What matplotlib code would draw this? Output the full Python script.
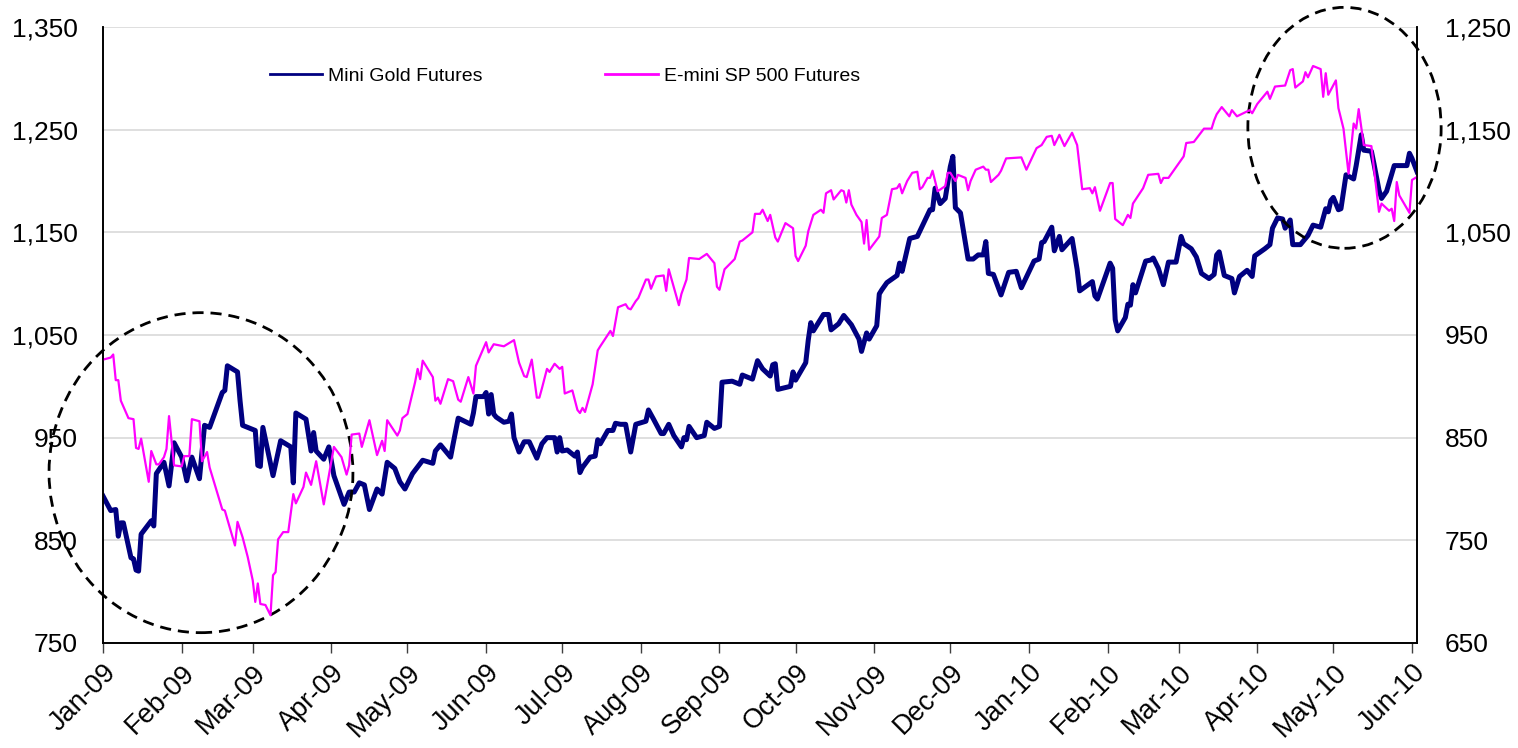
import matplotlib
matplotlib.use("Agg")
import matplotlib.pyplot as plt
import matplotlib.dates as mdates
from matplotlib.patches import Ellipse
from matplotlib.lines import Line2D
from matplotlib.ticker import FuncFormatter
import pandas as pd

plt.rcParams["font.family"] = ["Liberation Sans", "DejaVu Sans"]

START = pd.Timestamp("2009-01-01")

# Mini Gold Futures (left axis), calendar days after 1 Jan 2009
gold_day = [0, 3, 5, 6, 7, 8, 11, 12, 13, 14,
            15, 19, 20, 21, 24, 26, 28, 31, 33, 35,
            38, 40, 42, 47, 48, 49, 53, 54, 55, 60,
            61, 62, 63, 67, 70, 74, 75, 76, 80, 82,
            83, 84, 87, 89, 91, 95, 97, 99, 101, 103,
            105, 108, 110, 112, 115, 117, 119, 122, 126, 130,
            131, 133, 137, 138, 140, 145, 146, 147, 150, 151,
            152, 153, 154, 155, 158, 160, 161, 162, 164, 166,
            168, 171, 173, 175, 178, 179, 180, 181, 183, 186,
            187, 188, 189, 192, 194, 195, 196, 199, 201, 202,
            204, 206, 208, 210, 214, 215, 217, 220, 221, 223,
            225, 228, 229, 230, 231, 234, 237, 238, 241, 243,
            244, 248, 251, 252, 256, 258, 260, 263, 264, 265,
            266, 271, 272, 273, 277, 278, 279, 280, 284, 286,
            287, 290, 292, 295, 298, 299, 301, 302, 305, 306,
            307, 309, 313, 314, 315, 318, 321, 326, 327, 328,
            330, 332, 334, 335, 336, 338, 341, 343, 344, 345,
            347, 348, 349, 351, 354, 357, 360, 362, 367, 369,
            370, 371, 374, 375, 377, 378, 382, 384, 385, 390,
            391, 392, 395, 397, 398, 399, 400, 403, 404, 405,
            406, 407, 411, 413, 414, 416, 418, 420, 423, 425,
            426, 429, 431, 433, 436, 438, 439, 440, 442, 445,
            446, 448, 451, 453, 454, 458, 460, 461, 463, 465,
            466, 468, 469, 472, 475, 477, 480, 482, 483, 484,
            485, 487, 488, 490, 493, 494, 496, 497, 500, 501,
            503, 504, 506, 509, 514, 515, 516, 518]
gold_px = [893, 879, 880, 854, 867, 867, 833, 832, 821, 820,
           856, 869, 864, 915, 926, 903, 945, 931, 908, 931,
           910, 962, 960, 994, 996, 1020, 1014, 986, 962, 957,
           923, 922, 960, 913, 947, 941, 906, 974, 968, 937,
           955, 937, 929, 941, 913, 885, 897, 897, 906, 904,
           880, 900, 895, 926, 920, 907, 900, 915, 928, 925,
           937, 943, 931, 944, 969, 963, 974, 990, 990, 994,
           973, 992, 973, 970, 965, 966, 973, 950, 936, 946,
           946, 930, 944, 950, 950, 936, 950, 937, 938, 932,
           936, 916, 921, 931, 932, 948, 944, 957, 957, 964,
           963, 963, 936, 963, 966, 977, 968, 954, 954, 963,
           952, 941, 950, 948, 961, 950, 952, 965, 959, 961,
           1004, 1005, 1002, 1011, 1007, 1025, 1017, 1010, 1021, 1022,
           997, 1000, 1014, 1006, 1023, 1045, 1062, 1054, 1070, 1070,
           1055, 1061, 1069, 1060, 1046, 1034, 1052, 1046, 1059, 1090,
           1094, 1101, 1108, 1120, 1112, 1144, 1146, 1172, 1172, 1193,
           1178, 1183, 1214, 1224, 1174, 1169, 1124, 1124, 1126, 1128,
           1128, 1141, 1110, 1109, 1089, 1111, 1112, 1096, 1122, 1124,
           1140, 1141, 1155, 1132, 1146, 1133, 1144, 1114, 1093, 1102,
           1088, 1085, 1106, 1120, 1115, 1065, 1054, 1067, 1080, 1079,
           1099, 1091, 1122, 1123, 1125, 1115, 1099, 1121, 1121, 1146,
           1139, 1134, 1126, 1110, 1105, 1109, 1128, 1131, 1108, 1105,
           1091, 1107, 1113, 1107, 1127, 1134, 1138, 1154, 1164, 1163,
           1154, 1162, 1138, 1138, 1147, 1157, 1155, 1173, 1170, 1181,
           1184, 1172, 1173, 1206, 1202, 1215, 1245, 1230, 1229, 1217,
           1191, 1183, 1190, 1215, 1215, 1227, 1222, 1209]

# E-mini SP 500 Futures (right axis)
sp_day = [0, 3, 4, 5, 6, 7, 10, 12, 13, 14,
          15, 18, 19, 21, 22, 24, 25, 26, 28, 31,
          32, 34, 35, 38, 39, 41, 42, 47, 48, 52,
          53, 55, 57, 59, 60, 61, 62, 64, 66, 67,
          68, 69, 71, 73, 75, 76, 79, 80, 82, 84,
          87, 91, 94, 96, 97, 98, 101, 102, 105, 108,
          110, 111, 112, 116, 117, 118, 120, 123, 124, 125,
          126, 130, 131, 132, 133, 136, 138, 140, 141, 144,
          146, 147, 151, 152, 154, 158, 162, 164, 166, 167,
          169, 171, 172, 173, 175, 176, 178, 180, 181, 182,
          185, 187, 188, 189, 190, 193, 195, 196, 200, 201,
          203, 204, 206, 207, 208, 210, 211, 214, 215, 216,
          218, 221, 222, 223, 227, 228, 230, 231, 235, 238,
          241, 242, 243, 245, 249, 251, 252, 256, 257, 259,
          260, 262, 263, 265, 266, 269, 272, 273, 274, 277,
          278, 280, 283, 284, 285, 287, 288, 291, 292, 293,
          294, 295, 297, 299, 300, 301, 302, 306, 307, 309,
          311, 313, 314, 315, 317, 319, 321, 322, 323, 325,
          326, 327, 329, 332, 333, 334, 336, 337, 340, 341,
          342, 344, 347, 348, 349, 350, 353, 354, 356, 362,
          364, 368, 370, 372, 374, 375, 377, 379, 382, 384,
          386, 389, 390, 391, 393, 397, 398, 399, 402, 404,
          405, 406, 410, 412, 416, 417, 418, 420, 424, 426,
          427, 430, 434, 437, 438, 439, 441, 444, 445, 447,
          452, 453, 455, 459, 460, 462, 466, 468, 469, 470,
          473, 474, 475, 477, 480, 481, 482, 483, 486, 487,
          489, 491, 493, 494, 495, 497, 500, 503, 504, 507,
          508, 509, 510, 511, 515, 516, 518]
sp_px = [926, 928, 931, 906, 906, 886, 869, 868, 840, 839,
         849, 807, 837, 824, 824, 831, 839, 871, 823, 822,
         832, 832, 868, 866, 827, 836, 821, 780, 779, 745,
         768, 753, 734, 711, 690, 708, 688, 687, 677, 716,
         719, 751, 758, 758, 795, 786, 802, 816, 804, 827,
         785, 841, 831, 814, 823, 853, 854, 841, 867, 833,
         847, 837, 867, 852, 857, 869, 873, 904, 917, 907,
         925, 909, 886, 889, 883, 907, 905, 887, 885, 909,
         893, 920, 943, 933, 941, 939, 945, 923, 910, 909,
         926, 889, 889, 898, 917, 914, 922, 917, 919, 893,
         896, 877, 874, 879, 875, 902, 935, 939, 954, 949,
         977, 978, 980, 976, 975, 983, 986, 1004, 1004, 995,
         1007, 1008, 993, 1014, 979, 990, 1004, 1025, 1024, 1029,
         1020, 997, 994, 1014, 1024, 1041, 1042, 1050, 1068, 1068,
         1072, 1061, 1067, 1045, 1041, 1059, 1054, 1027, 1022, 1037,
         1051, 1067, 1072, 1069, 1088, 1091, 1082, 1091, 1090, 1079,
         1091, 1077, 1067, 1060, 1039, 1062, 1033, 1046, 1064, 1067,
         1092, 1093, 1097, 1088, 1100, 1108, 1109, 1092, 1094, 1103,
         1103, 1110, 1090, 1095, 1108, 1108, 1100, 1106, 1103, 1091,
         1100, 1111, 1114, 1111, 1111, 1099, 1106, 1110, 1122, 1123,
         1111, 1132, 1135, 1143, 1144, 1135, 1145, 1134, 1147, 1135,
         1092, 1093, 1088, 1094, 1071, 1098, 1098, 1063, 1057, 1067,
         1064, 1078, 1093, 1106, 1107, 1098, 1103, 1103, 1117, 1124,
         1137, 1138, 1151, 1151, 1159, 1165, 1172, 1163, 1169, 1163,
         1169, 1166, 1175, 1187, 1180, 1192, 1193, 1208, 1209, 1191,
         1197, 1206, 1201, 1212, 1209, 1182, 1205, 1184, 1198, 1171,
         1151, 1107, 1156, 1151, 1170, 1135, 1134, 1070, 1078, 1071,
         1073, 1061, 1099, 1086, 1069, 1101, 1104]

left_ticks = [750, 850, 950, 1050, 1150, 1250, 1350]
right_ticks = [650, 750, 850, 950, 1050, 1150, 1250]

gold_dates = START + pd.to_timedelta(gold_day, unit="D")
sp_dates = START + pd.to_timedelta(sp_day, unit="D")

NAVY = "#000080"
PINK = "#FF00FF"

fig = plt.figure(figsize=(15.18, 7.48), dpi=100)
ax = fig.add_axes([0.0679, 0.1404, 0.8656, 0.8235])
ax2 = ax.twinx()

ax.plot(gold_dates, gold_px, color=NAVY, lw=3.6)
ax2.plot(sp_dates, sp_px, color=PINK, lw=1.6)

ax.set_ylim(left_ticks[0], left_ticks[-1])
ax2.set_ylim(right_ticks[0], right_ticks[-1])
ax.set_yticks(left_ticks)
ax2.set_yticks(right_ticks)
comma = FuncFormatter(lambda v, p: f"{v:,.0f}")
ax.yaxis.set_major_formatter(comma)
ax2.yaxis.set_major_formatter(comma)
ax.grid(axis="y", color="#d9d9d9", lw=1.2)
ax.set_axisbelow(True)

ax.set_xlim(START, START + pd.Timedelta(days=518))
ax.xaxis.set_major_locator(mdates.MonthLocator())
ax.xaxis.set_major_formatter(mdates.DateFormatter("%b-%y"))
for lab in ax.get_xticklabels():
    lab.set_rotation(45)
    lab.set_ha("right")
    lab.set_va("top")
    lab.set_rotation_mode("anchor")

ax.tick_params(axis="x", direction="out", length=7, width=1, color="#404040",
               labelsize=19.5, pad=5)
ax.tick_params(axis="y", length=0, labelsize=19, pad=18)
ax2.tick_params(axis="y", length=0, labelsize=19, pad=20)

for a in (ax, ax2):
    a.spines["top"].set_visible(False)
    for s in ("left", "right", "bottom"):
        a.spines[s].set_linewidth(1.2)
        a.spines[s].set_color("black")

# dashed circles around the two divergence zones
x0 = mdates.date2num(START)
ax2.add_patch(Ellipse((x0 + 38.6, 815.9), 119.8, 311.7, fill=False,
                      ls=(0, (4, 2.5)), lw=2, ec="black", clip_on=False))
ax2.add_patch(Ellipse((x0 + 489.4, 1151.8), 76.2, 234.7, fill=False,
                      ls=(0, (4, 2.5)), lw=2, ec="black", clip_on=False))

handles = [Line2D([], [], color=NAVY, lw=2),
           Line2D([], [], color=PINK, lw=2)]
ax2.legend(handles, ["Mini Gold Futures", "E-mini SP 500 Futures"],
           loc="center left", bbox_to_anchor=(0.127, 0.92), ncol=2,
           frameon=False, fontsize=14, handlelength=2.7, handletextpad=0.3,
           columnspacing=6.3, borderpad=0, borderaxespad=0)

fig.savefig("out.png", dpi=100)
